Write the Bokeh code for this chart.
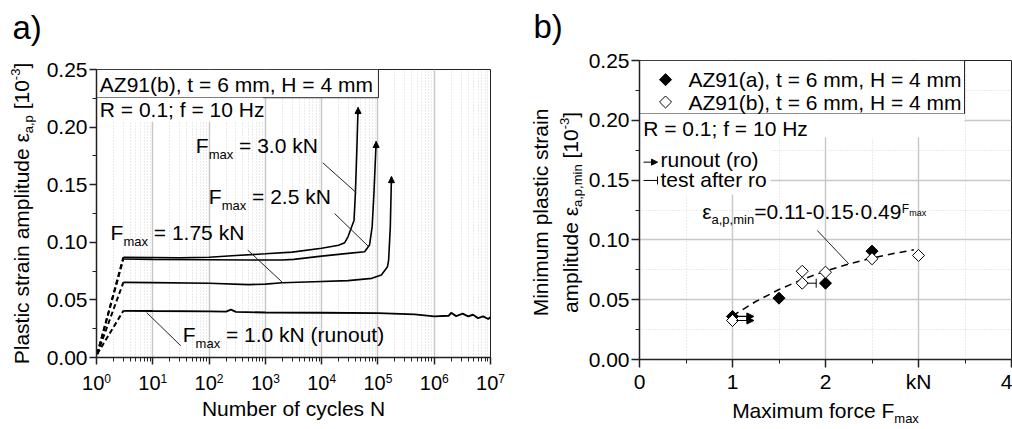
import math
from bokeh.plotting import figure
from bokeh.models import (Range1d, FixedTicker, NumeralTickFormatter, Label,
                          BoxAnnotation, Arrow, NormalHead, TeeHead)
from bokeh.layouts import row, column
from bokeh.embed import file_html
from bokeh.resources import INLINE

FONT = "Liberation Sans"

# ---------------- data: panel a) ----------------
decades = [1e0, 1e1, 1e2, 1e3, 1e4, 1e5, 1e6, 1e7]
decade_exp = ["0", "1", "2", "3", "4", "5", "6", "7"]

n_30 = [3, 10, 30, 100, 300, 1000, 3000, 1e4, 2e4, 2.57e4, 2.95e4, 3.76e4, 3.98e4, 4.22e4, 4.44e4]
e_30 = [0.0870, 0.0868, 0.0866, 0.0870, 0.0885, 0.0900, 0.0915, 0.0948, 0.0975,
        0.0997, 0.1050, 0.1190, 0.1430, 0.1800, 0.2170]

n_25 = [3, 10, 100, 500, 2000, 3200, 1e4, 2.95e4, 5.8e4, 7.1e4, 7.9e4, 8.5e4, 9.3e4]
e_25 = [0.0855, 0.0852, 0.0848, 0.0846, 0.0846, 0.0852, 0.0880, 0.0904, 0.0918,
        0.0977, 0.1136, 0.1430, 0.1875]

n_175 = [3, 10, 100, 500, 1000, 2000, 7400, 2.95e4, 7.8e4, 1.15e5, 1.48e5, 1.55e5, 1.66e5, 1.74e5]
e_175 = [0.0652, 0.0650, 0.0645, 0.0633, 0.0637, 0.0649, 0.0658, 0.0667, 0.0687,
         0.0716, 0.0788, 0.0846, 0.1136, 0.1570]

n_10 = [3, 10, 100, 200, 245, 300, 1000, 1e4, 1e5, 4.5e5, 1e6, 1.8e6, 2e6, 2.45e6,
        3.2e6, 4e6, 4.9e6, 6e6, 7.4e6, 9.1e6, 1e7]
e_10 = [0.0405, 0.0403, 0.0400, 0.0398, 0.0415, 0.0396, 0.0390, 0.0388, 0.0385,
        0.0374, 0.0357, 0.0362, 0.0388, 0.0359, 0.0380, 0.0357, 0.0371, 0.0342,
        0.0357, 0.0334, 0.0350]

ramp_n = 1.03
ramp_e = 0.003

# ---------------- data: panel b) ----------------
f_a = [1.0, 1.5, 2.0, 2.5]
e_a = [0.0360, 0.0513, 0.0638, 0.0906]
f_b = [1.0, 1.75, 1.75, 2.0, 2.5, 3.0]
e_b = [0.0326, 0.0738, 0.0638, 0.0730, 0.0842, 0.0870]
runout_f = [1.0, 1.0]
runout_e = [0.0360, 0.0326]
runout_to = 1.23
after_f = 1.75
after_e = 0.0638
after_to = 1.90
f_fit = [1.0, 1.25, 1.5, 1.75, 2.0, 2.25, 2.5, 2.75, 2.95]
e_fit = [0.0365, 0.0485, 0.0585, 0.0669, 0.0740, 0.0799, 0.0848, 0.0889, 0.0917]
xticks_b = [0, 1, 2, 3, 4]
xlabels_b = {3: "kN"}

# ---------------- helpers ----------------
CW = {' ': .278, '!': .278, '(': .333, ')': .333, ',': .278, '-': .333, '.': .278,
      ':': .278, ';': .278, '=': .584, '[': .278, ']': .278, '·': .278, 'ε': .44,
      'A': .667, 'B': .667, 'C': .722, 'D': .722, 'E': .667, 'F': .611, 'G': .778,
      'H': .722, 'I': .278, 'J': .5, 'K': .667, 'L': .556, 'M': .833, 'N': .722,
      'O': .778, 'P': .667, 'Q': .778, 'R': .722, 'S': .667, 'T': .611, 'U': .722,
      'V': .667, 'W': .944, 'X': .667, 'Y': .667, 'Z': .611,
      'a': .556, 'b': .556, 'c': .5, 'd': .556, 'e': .556, 'f': .278, 'g': .556,
      'h': .556, 'i': .222, 'j': .222, 'k': .5, 'l': .222, 'm': .833, 'n': .556,
      'o': .556, 'p': .556, 'q': .556, 'r': .333, 's': .5, 't': .278, 'u': .556,
      'v': .5, 'w': .722, 'x': .5, 'y': .5, 'z': .5}
MID = 0.3465   # distance baseline -> middle of the ascent/descent box, in em


def tw(s, size):
    return sum(CW.get(c, .556) for c in s) * size


def total_w(pieces):
    return sum(tw(t, s) for t, s, _ in pieces)


def rich(p, x, y, pieces, dx=0.0, dy=0.0, vertical=False, color="black"):
    """Place text pieces along a common baseline at (x, y) + pixel offsets."""
    adv = 0.0
    for text, size, shift in pieces:
        lead = len(text) - len(text.lstrip(' '))
        core = text.strip(' ')
        trail = len(text) - len(text.rstrip(' ')) if core else 0
        adv += lead * CW[' '] * size
        if core:
            up = shift + MID * size
            if vertical:
                xo, yo, ang = dx - up, dy + adv, math.pi / 2
            else:
                xo, yo, ang = dx + adv, dy + up, 0.0
            p.add_layout(Label(x=x, y=y, x_offset=xo, y_offset=yo, text=core,
                               text_font=FONT, text_font_size=f"{size}px",
                               text_align="left", text_baseline="middle",
                               angle=ang, text_color=color))
            adv += tw(core, size)
        adv += trail * CW[' '] * size


def strip(x0, x1, y0, y1):
    """A blank figure whose frame is the whole canvas, in canvas pixel units."""
    s = figure(width=x1 - x0, height=y1 - y0, x_range=Range1d(x0, x1),
               y_range=Range1d(y1, y0), output_backend="svg", toolbar_location=None,
               x_axis_location=None, y_axis_location=None, frame_align=False,
               min_border_left=0, min_border_right=0, min_border_top=0, min_border_bottom=0)
    s.grid.visible = False
    s.outline_line_color = None
    s.background_fill_color = "white"
    s.border_fill_color = "white"
    return s


def style_axes(p, tick_out):
    for ax in p.axis:
        ax.axis_line_color = "#222222"
        ax.axis_line_width = 1.5
        ax.major_tick_line_color = "#222222"
        ax.major_tick_line_width = 1.5
        ax.major_tick_out = tick_out
        ax.major_tick_in = 0
        ax.minor_tick_line_color = "#222222"
        ax.minor_tick_line_width = 1
        ax.minor_tick_out = 4
        ax.minor_tick_in = 0
        ax.major_label_text_font = FONT
        ax.major_label_text_font_size = "21px"
        ax.major_label_text_color = "black"
        ax.major_label_standoff = 2
    p.outline_line_color = "#222222"
    p.outline_line_width = 1
    p.background_fill_color = "white"
    p.border_fill_color = "white"


def white_box(p, left, right, bottom, top, border=False):
    b = BoxAnnotation(left=left, right=right, bottom=bottom, top=top,
                      fill_color="white", fill_alpha=1.0,
                      line_color="#222222", line_alpha=1.0 if border else 0.0,
                      line_width=1, level="underlay")
    p.add_layout(b)


# canvas geometry (pixels)
A_L, A_R, A_T, A_B = 96, 490, 69, 357      # frame of panel a
B_L, B_R, B_T, B_B = 639, 1011, 60, 359    # frame of panel b
TOP_H = 50
H = 429
A_SPLIT = 370                              # top of the strip under panel a

# ================= panel a =================
pa = figure(width=508 - 36, height=A_SPLIT - TOP_H, x_axis_type="log",
            x_range=Range1d(1, 1e7), y_range=Range1d(0, 0.25),
            output_backend="svg", toolbar_location=None, frame_align=False,
            min_border_left=A_L - 36, min_border_right=508 - A_R,
            min_border_top=A_T - TOP_H, min_border_bottom=A_SPLIT - A_B)
minors_a = [m * d for d in decades[:-1] for m in range(2, 10)]
tick_a = FixedTicker(ticks=decades, minor_ticks=minors_a)
pa.xaxis.ticker = tick_a
pa.xgrid.ticker = tick_a
pa.yaxis.ticker = FixedTicker(ticks=[0, 0.05, 0.10, 0.15, 0.20, 0.25],
                              minor_ticks=[0.025, 0.075, 0.125, 0.175, 0.225])
pa.yaxis.formatter = NumeralTickFormatter(format="0.00")
style_axes(pa, 7)
pa.xaxis.major_label_text_alpha = 0.0
pa.xaxis.major_label_text_font_size = "1px"
pa.xaxis.major_label_standoff = 0
pa.xgrid.grid_line_color = "#c8c8c8"
pa.xgrid.grid_line_width = 1.5
pa.xgrid.minor_grid_line_color = "#d6d6d6"
pa.xgrid.minor_grid_line_dash = "1 2"
pa.ygrid.visible = False

white_box(pa, 1, 1.02e5, 0.2255, 0.25, border=True)
white_box(pa, 1, 910, 0.2046, 0.2255)

for n_c, e_c in [(n_30, e_30), (n_25, e_25), (n_175, e_175), (n_10, e_10)]:
    pa.line([ramp_n, n_c[0]], [ramp_e, e_c[0]], line_color="black",
            line_width=2, line_dash="5 3")
for n_c, e_c, w in [(n_30, e_30, 1.6), (n_25, e_25, 1.6), (n_175, e_175, 1.6), (n_10, e_10, 1.9)]:
    pa.line(n_c, e_c, line_color="black", line_width=w)
for n_c, e_c in [(n_30, e_30), (n_25, e_25), (n_175, e_175)]:
    pa.add_layout(Arrow(x_start=n_c[-1], y_start=e_c[-1] - 0.006, x_end=n_c[-1], y_end=e_c[-1],
                        line_color="black", line_width=1.5,
                        end=NormalHead(size=6, fill_color="black", line_color="black", line_width=1)))
leaders_a = [((10 ** 4.02, 0.169), (10 ** 4.617, 0.143)),
             ((10 ** 4.23, 0.125), (10 ** 4.836, 0.0962)),
             ((10 ** 2.686, 0.0933), (10 ** 3.31, 0.0649)),
             ((10 ** 0.891, 0.039), (10 ** 1.497, 0.0102))]
for (x0, y0), (x1, y1) in leaders_a:
    pa.line([x0, x1], [y0, y1], line_color="#222222", line_width=1)

rich(pa, 1.146, 0.2304, [("AZ91(b), t = 6 mm, H = 4 mm", 21, 0)])
rich(pa, 1.146, 0.2087, [("R = 0.1; f = 10 Hz", 21, 0)])
rich(pa, 58.2, 0.1777, [("F", 21, 0), ("max", 13, -6), (" = 3.0 kN", 21, 0)])
rich(pa, 99.0, 0.1333, [("F", 21, 0), ("max", 13, -6), (" = 2.5 kN", 21, 0)])
rich(pa, 1.78, 0.1020, [("F", 21, 0), ("max", 13, -6), (" = 1.75 kN", 21, 0)])
rich(pa, 34.1, 0.01357, [("F", 21, 0), ("max", 13, -6), (" = 1.0 kN (runout)", 21, 0)])

# bottom strip of panel a: 10^n tick labels and title
botA = strip(36, 508, A_SPLIT, H)
for d, ex in zip(decades, decade_exp):
    px = A_L + math.log10(d) / 7.0 * (A_R - A_L)
    pcs = [("10", 20, 0), (ex, 12, 7)]
    rich(botA, px - total_w(pcs) / 2, 389, pcs)
pcs = [("Number of cycles N", 21, 0)]
rich(botA, (A_L + A_R) / 2 - total_w(pcs) / 2, 415, pcs)

# left strip of panel a: rotated y title
ystripA = strip(0, 36, TOP_H, H)
pcs = [("Plastic strain amplitude ε", 21, 0), ("a,p", 13, -5),
       (" [10", 21, 0), ("-3", 13, 8), ("]", 21, 0)]
rich(ystripA, 28, 213 + total_w(pcs) / 2, pcs, vertical=True)

# ================= panel b =================
pb = figure(width=1012 - 585, height=395 - TOP_H, x_range=Range1d(0, 4), y_range=Range1d(0, 0.25),
            output_backend="svg", toolbar_location=None, frame_align=False,
            min_border_left=B_L - 585, min_border_right=1012 - B_R,
            min_border_top=B_T - TOP_H, min_border_bottom=395 - B_B)
tick_bx = FixedTicker(ticks=xticks_b, minor_ticks=[0.5, 1.5, 2.5, 3.5])
tick_by = FixedTicker(ticks=[0, 0.05, 0.10, 0.15, 0.20, 0.25],
                      minor_ticks=[0.025, 0.075, 0.125, 0.175, 0.225])
pb.xaxis.ticker = tick_bx
pb.xgrid.ticker = tick_bx
pb.yaxis.ticker = tick_by
pb.ygrid.ticker = tick_by
pb.yaxis.formatter = NumeralTickFormatter(format="0.00")
pb.xaxis.major_label_overrides = xlabels_b
style_axes(pb, 8)
for g in (pb.xgrid, pb.ygrid):
    g.grid_line_color = "#c8c8c8"
    g.grid_line_width = 1.5
    g.minor_grid_line_color = "#d6d6d6"
    g.minor_grid_line_dash = "1 2"

white_box(pb, 0, 3.495, 0.2054, 0.25, border=True)
white_box(pb, 0, 3.495, 0.1856, 0.2054)
white_box(pb, 0, 1.41, 0.138, 0.1856)

pb.line(f_fit, e_fit, line_color="black", line_width=1.5, line_dash="7 5")
pb.scatter(f_a, e_a, marker="square", angle=math.pi / 4, size=8.5,
           fill_color="black", line_color="black", line_width=1)
pb.scatter(f_b, e_b, marker="square", angle=math.pi / 4, size=8.5,
           fill_color="white", line_color="black", line_width=1)
for fx, ey in zip(runout_f, runout_e):
    pb.add_layout(Arrow(x_start=fx + 0.04, y_start=ey, x_end=runout_to, y_end=ey,
                        line_color="black", line_width=1.2,
                        end=NormalHead(size=7, fill_color="black", line_color="black", line_width=1)))
pb.add_layout(Arrow(x_start=after_f + 0.05, y_start=after_e, x_end=after_to, y_end=after_e,
                    line_color="black", line_width=1,
                    end=TeeHead(size=9, line_color="black", line_width=1)))
pb.line([1.911, 2.25], [0.1079, 0.080], line_color="#222222", line_width=1)

pb.scatter([0.28], [0.234], marker="square", angle=math.pi / 4, size=8.5,
           fill_color="black", line_color="black")
pb.scatter([0.28], [0.2153], marker="square", angle=math.pi / 4, size=8.5,
           fill_color="white", line_color="black")
rich(pb, 0.527, 0.2277, [("AZ91(a), t = 6 mm, H = 4 mm", 21, 0)])
rich(pb, 0.527, 0.2090, [("AZ91(b), t = 6 mm, H = 4 mm", 21, 0)])
rich(pb, 0.04, 0.1873, [("R = 0.1; f = 10 Hz", 21, 0)])
pb.add_layout(Arrow(x_start=0.043, y_start=0.165, x_end=0.194, y_end=0.165,
                    line_color="black", line_width=1,
                    end=NormalHead(size=6, fill_color="black", line_color="black", line_width=1)))
rich(pb, 0.226, 0.1614, [("runout (ro)", 21, 0)])
pb.add_layout(Arrow(x_start=0.043, y_start=0.1497, x_end=0.194, y_end=0.1497,
                    line_color="black", line_width=1,
                    end=TeeHead(size=8, line_color="black", line_width=1)))
rich(pb, 0.226, 0.1440, [("test after ro", 21, 0)])
rich(pb, 0.675, 0.1179, [("ε", 21, 0), ("a,p,min", 13, -6), ("=0.11-0.15·0.49", 21, 0),
                         ("F", 12, 5), ("max", 9, 2)])

botB = strip(585, 1012, 395, H)
pcs = [("Maximum force F", 21, 0), ("max", 13, -6)]
rich(botB, (B_L + B_R) / 2 - total_w(pcs) / 2, 417, pcs)

ystripB = strip(508, 585, TOP_H, H)
pcs1 = [("Minimum plastic strain", 21, 0)]
rich(ystripB, 547, 212 + total_w(pcs1) / 2, pcs1, vertical=True)
pcs2 = [("amplitude ε", 21, 0), ("a,p,min", 13, -5), (" [10", 21, 0),
        ("-3", 13, 8), ("]", 21, 0)]
rich(ystripB, 577, 212 + total_w(pcs2) / 2, pcs2, vertical=True)

# top strip with panel letters
top = strip(0, 1012, 0, TOP_H)
rich(top, 12, 38, [("a)", 33, 0)])
rich(top, 533, 37, [("b)", 33, 0)])

layout = column(top,
                row(ystripA, column(pa, botA), ystripB, column(pb, botB)))
open("out.html", "w").write(file_html(layout, INLINE))
